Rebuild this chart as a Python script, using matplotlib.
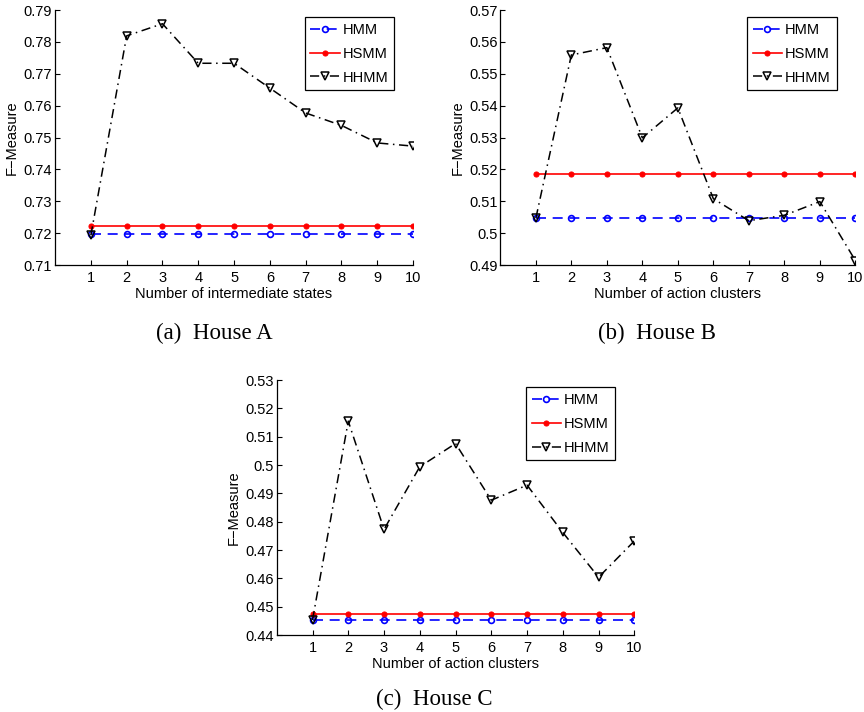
import matplotlib
matplotlib.use("Agg")
import matplotlib.pyplot as plt
from matplotlib.ticker import MultipleLocator, FuncFormatter

k = list(range(1, 11))

# House A
hmm_a = [0.7196] * 10
hsmm_a = [0.7223] * 10
hhmm_a = [0.7193, 0.7819, 0.7857, 0.7733, 0.7733, 0.7655, 0.7577, 0.7538, 0.7483, 0.7473]

# House B
hmm_b = [0.5047] * 10
hsmm_b = [0.5187] * 10
hhmm_b = [0.5047, 0.5559, 0.5582, 0.5299, 0.5393, 0.5108, 0.5039, 0.5056, 0.5099, 0.4914]

# House C
hmm_c = [0.4453] * 10
hsmm_c = [0.4473] * 10
hhmm_c = [0.4453, 0.5155, 0.4773, 0.4994, 0.5076, 0.4876, 0.4929, 0.4762, 0.4604, 0.4732]

panels = [
    ([0.0637, 0.6278, 0.4144, 0.3581], hmm_a, hsmm_a, hhmm_a, (0.71, 0.79),
     "Number of intermediate states", "(a)  House A", (214, 333)),
    ([0.5791, 0.6278, 0.4109, 0.3581], hmm_b, hsmm_b, hhmm_b, (0.49, 0.57),
     "Number of action clusters", "(b)  House B", (657, 333)),
    ([0.3203, 0.1081, 0.4139, 0.3581], hmm_c, hsmm_c, hhmm_c, (0.44, 0.53),
     "Number of action clusters", "(c)  House C", (434, 699)),
]

sans = ["Liberation Sans", "DejaVu Sans"]
fs = 10.5

fig = plt.figure(figsize=(8.64, 7.12), dpi=100)
for rect, hmm, hsmm, hhmm, ylim, xlab, cap, cpos in panels:
    ax = fig.add_axes(rect)
    ax.plot(k, hmm, color="#0000ff", ls=(0, (6, 4)), lw=1.2, marker="o", ms=4.2,
            mfc="none", mew=1.2, label="HMM")
    ax.plot(k, hsmm, color="#ff0000", ls="-", lw=1.2, marker="o", ms=3.6,
            mew=0.8, label="HSMM")
    ax.plot(k, hhmm, color="black", ls=(0, (6, 3, 1, 3)), lw=1.1, marker="v", ms=6,
            mfc="none", mew=1.1, label="HHMM")
    ax.set_xlim(0, 10)
    ax.set_ylim(*ylim)
    ax.set_xticks(k)
    ax.yaxis.set_major_locator(MultipleLocator(0.01))
    ax.yaxis.set_major_formatter(FuncFormatter(lambda v, _: f"{v:g}"))
    for s in ("top", "right"):
        ax.spines[s].set_visible(False)
    for s in ("left", "bottom"):
        ax.spines[s].set_linewidth(0.9)
    ax.tick_params(direction="in", length=3.5, width=0.8, labelsize=fs)
    ax.tick_params(axis="x", pad=4)
    ax.tick_params(axis="y", pad=2)
    for lab in ax.get_xticklabels() + ax.get_yticklabels():
        lab.set_family(sans)
    ax.set_xlabel(xlab, fontsize=fs, family=sans, labelpad=1.5)
    ax.set_ylabel("F\u2212Measure", fontsize=fs, family=sans)
    ax.yaxis.set_label_coords(-0.10, 0.5)
    leg = ax.legend(loc="upper right", bbox_to_anchor=(0.947, 0.973), borderaxespad=0,
                    fancybox=False, framealpha=1, edgecolor="black", handlelength=2.0,
                    handletextpad=0.2, borderpad=0.4, labelspacing=0.68,
                    prop={"family": sans, "size": fs})
    leg.get_frame().set_linewidth(0.9)
    fig.text(cpos[0] / 864, 1 - cpos[1] / 712, cap, ha="center", va="center",
             fontsize=16.5, family=["Liberation Serif", "DejaVu Serif"])

fig.savefig("out.png", dpi=100)
